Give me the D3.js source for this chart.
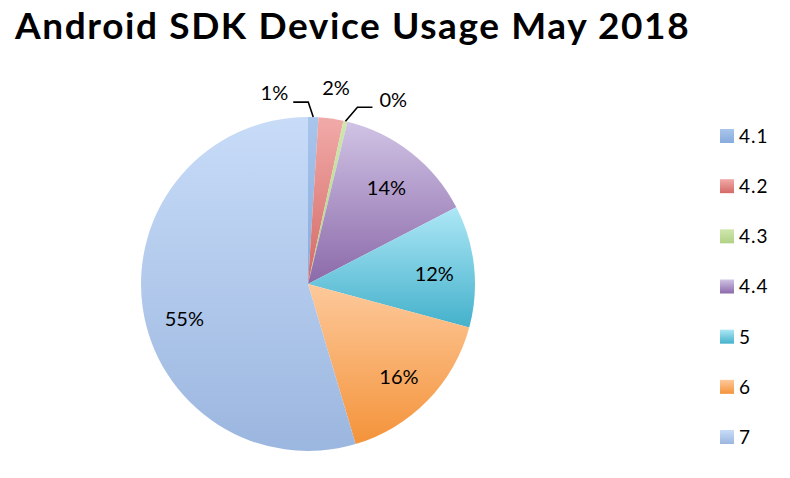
<!DOCTYPE html>
<html>
<head>
<meta charset="utf-8">
<script src="https://cdn.jsdelivr.net/npm/d3@7"></script>
<style>
  body { margin: 0; background: #fff; }
  text { font-family: Lato, "Open Sans", sans-serif; fill: #000; }
</style>
</head>
<body>
<div id="main"></div>
<script>
const W = 790, H = 478;

// data (percent of devices)
const versions = ["4.1", "4.2", "4.3", "4.4", "5", "6", "7"];
const shares = [1.0, 2.4, 0.4, 13.6, 11.8, 16.2, 54.6];
const colorsTop = ["#a9c5ec", "#f1aaa8", "#cfe6ad", "#d0c3e5", "#ade7f6", "#fdc99b", "#c8dcf8"];
const colorsBottom = ["#86abdd", "#d46966", "#b1d186", "#8b69a9", "#44b1cb", "#f4933a", "#9bb6df"];

// small slices get their label outside, with an optional leader line
// (offsets relative to the point on the rim at the slice middle, text y = baseline)
const outside = {
    "4.1": {elbow: [-5, -15], end: [-20, -15], text: [-25, -17], anchor: "end"},
    "4.2": {elbow: null, end: null, text: [5, -24], anchor: "middle"},
    "4.3": {elbow: [12, -14], end: [27, -14], text: [34, -14], anchor: "start"}
};
// excel's "best fit" moved a few inside labels a bit
const nudge = {"7": [2, 13]};

const cfg = {cx: 308, cy: 284, r: 167, labelR: 127};

const svg = d3.select("#main").append("svg")
    .attr("width", W).attr("height", H);

const defs = svg.append("defs");
versions.forEach(function(v, i) {
    const g = defs.append("linearGradient")
        .attr("id", "grad" + i)
        .attr("x1", 0).attr("y1", 0).attr("x2", 0).attr("y2", 1);
    g.append("stop").attr("offset", "0%").attr("stop-color", colorsTop[i]);
    g.append("stop").attr("offset", "100%").attr("stop-color", colorsBottom[i]);
});

svg.append("text")
    .attr("x", 15).attr("y", 39)
    .style("font-size", "37px")
    .style("font-weight", "bold")
    .style("letter-spacing", "1.6px")
    .text("Android SDK Device Usage May 2018");

const data = versions.map(function(v, i) { return {version: v, value: shares[i], idx: i}; });

const pie = d3.pie().sort(null).value(d => d.value);
const arcs = pie(data);
const arc = d3.arc().innerRadius(0).outerRadius(cfg.r);
const labelArc = d3.arc().innerRadius(cfg.labelR).outerRadius(cfg.labelR);

const g = svg.append("g").attr("transform", "translate(" + cfg.cx + "," + cfg.cy + ")");

g.selectAll("path.slice")
    .data(arcs)
    .enter()
    .append("path")
    .attr("class", "slice")
    .attr("d", arc)
    .attr("fill", d => "url(#grad" + d.data.idx + ")");

const fmt = d => Math.round(d) + "%";

// inside labels
g.selectAll("text.inlabel")
    .data(arcs.filter(d => !outside[d.data.version]))
    .enter()
    .append("text")
    .attr("class", "inlabel")
    .attr("transform", function(d) {
        const c = labelArc.centroid(d);
        const n = nudge[d.data.version] || [0, 0];
        return "translate(" + (c[0] + n[0]) + "," + (c[1] + n[1]) + ")";
    })
    .attr("text-anchor", "middle")
    .attr("dy", "0.55em")
    .style("font-size", "20px")
    .text(d => fmt(d.data.value));

// outside labels + leader lines
arcs.filter(d => outside[d.data.version]).forEach(function(d) {
    const o = outside[d.data.version];
    const mid = (d.startAngle + d.endAngle) / 2;
    const rim = [Math.sin(mid) * cfg.r, -Math.cos(mid) * cfg.r];
    if (o.elbow) {
        const pts = [rim, [rim[0] + o.elbow[0], rim[1] + o.elbow[1]], [rim[0] + o.end[0], rim[1] + o.end[1]]];
        g.append("path")
            .attr("d", d3.line()(pts))
            .attr("fill", "none")
            .attr("stroke", "#000")
            .attr("stroke-width", 1.6);
    }
    g.append("text")
        .attr("x", rim[0] + o.text[0])
        .attr("y", rim[1] + o.text[1])
        .attr("text-anchor", o.anchor)
        .style("font-size", "20px")
        .text(fmt(d.data.value));
});

// legend
const legendY = d3.scalePoint().domain(versions).range([136, 437]);
const leg = svg.append("g").selectAll("g")
    .data(data)
    .enter()
    .append("g")
    .attr("transform", d => "translate(720," + legendY(d.version) + ")");
leg.append("rect")
    .attr("x", 0).attr("y", -7)
    .attr("width", 14).attr("height", 14)
    .attr("fill", d => "url(#grad" + d.idx + ")");
leg.append("text")
    .attr("x", 19).attr("dy", "0.36em")
    .style("font-size", "19px")
    .style("letter-spacing", "1px")
    .text(d => d.version);
</script>
</body>
</html>
